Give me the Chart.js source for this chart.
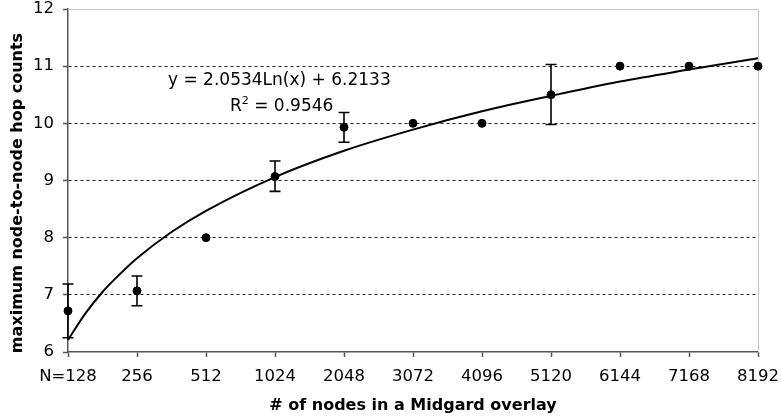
<!DOCTYPE html>
<html lang="en">
<head>
  <meta charset="UTF-8" />
  <title>Max node-to-node hop counts</title>
  <script src="https://cdn.jsdelivr.net/npm/chart.js"></script>
  <style>
    body { margin: 0; padding: 0; background: #fff; }
    #wrap { width: 781px; height: 419px; }
  </style>
</head>
<body>
  <div id="wrap"><canvas id="hopChart" width="781" height="419"></canvas></div>

  <script>
    // categories (x positions 1..11)
    const categories = ['N=128', '256', '512', '1024', '2048', '3072', '4096', '5120', '6144', '7168', '8192'];
    // mean max hop counts
    const hopCounts = [6.72, 7.07, 8.0, 9.07, 9.93, 10.0, 10.0, 10.5, 11.0, 11.0, 11.0];
    const errorLow  = [6.25, 6.81, null, 8.81, 9.67, null, null, 9.98, null, null, null];
    const errorHigh = [7.19, 7.33, null, 9.34, 10.19, null, null, 11.03, null, null, null];
    // log trendline
    const trendX = [1, 1.25, 1.5, 1.75, 2, 2.5, 3, 4, 5, 6, 7, 8, 9, 10, 11];
    const trendY = [6.21, 6.67, 7.05, 7.36, 7.64, 8.10, 8.47, 9.06, 9.52, 9.89, 10.21, 10.48, 10.73, 10.94, 11.14];
    const trendLabel = 'y = 2.0534Ln(x) + 6.2133';
    const r2Label = '0.9546';
    const yTicks = [6, 7, 8, 9, 10, 11, 12];
    const xTitle = '# of nodes in a Midgard overlay';
    const yTitle = 'maximum node-to-node hop counts';

    const pts = hopCounts.map((v, i) => ({ x: i + 1, y: v }));
    const trendPts = trendY.map((v, i) => ({ x: trendX[i], y: v }));

    const FONT = "'DejaVu Sans', Verdana, sans-serif";

    const errorBars = {
      id: 'errorBars',
      afterDatasetsDraw(chart) {
        const ctx = chart.ctx;
        const xs = chart.scales.x, ys = chart.scales.y;
        ctx.save();
        ctx.strokeStyle = '#000';
        ctx.lineWidth = 1.6;
        hopCounts.forEach((v, i) => {
          if (errorLow[i] == null) return;
          const px = xs.getPixelForValue(i + 1);
          const top = ys.getPixelForValue(errorHigh[i]);
          const bot = ys.getPixelForValue(errorLow[i]);
          ctx.beginPath();
          ctx.moveTo(px, top); ctx.lineTo(px, bot);
          ctx.moveTo(px - 5.5, top); ctx.lineTo(px + 5.5, top);
          ctx.moveTo(px - 5.5, bot); ctx.lineTo(px + 5.5, bot);
          ctx.stroke();
        });
        ctx.restore();
      }
    };

    const frameAndText = {
      id: 'frameAndText',
      beforeDatasetsDraw(chart) {
        const { ctx, chartArea: a } = chart;
        ctx.save();
        ctx.strokeStyle = '#c8c8c8';
        ctx.lineWidth = 1;
        ctx.beginPath();
        ctx.moveTo(a.left, a.top + 0.5);
        ctx.lineTo(a.right + 0.5, a.top + 0.5);
        ctx.lineTo(a.right + 0.5, a.bottom);
        ctx.stroke();
        ctx.restore();
      },
      afterDraw(chart) {
        const { ctx, chartArea: a } = chart;
        ctx.save();
        ctx.fillStyle = '#000';
        // trendline equation
        ctx.font = '17px ' + FONT;
        ctx.textBaseline = 'alphabetic';
        ctx.textAlign = 'left';
        ctx.fillText(trendLabel, a.left + 100, a.top + 76);
        const x1 = a.left + 162, yb = a.top + 102;
        ctx.fillText('R', x1, yb);
        let w = ctx.measureText('R').width;
        ctx.font = '11px ' + FONT;
        ctx.fillText('2', x1 + w, yb - 7);
        w += ctx.measureText('2').width;
        ctx.font = '17px ' + FONT;
        ctx.fillText(' = ' + r2Label, x1 + w, yb);
        // y axis title
        ctx.font = 'bold 16px ' + FONT;
        ctx.textAlign = 'center';
        ctx.textBaseline = 'middle';
        ctx.translate(18, 193);
        ctx.rotate(-Math.PI / 2);
        ctx.fillText(yTitle, 0, 0);
        ctx.restore();
      }
    };

    new Chart(document.getElementById('hopChart'), {
      type: 'scatter',
      data: {
        datasets: [
          {
            label: 'hop counts',
            data: pts,
            backgroundColor: '#000',
            borderColor: '#000',
            pointRadius: 4,
            pointHoverRadius: 4,
            clip: false,
            order: 1
          },
          {
            type: 'line',
            label: 'trend',
            data: trendPts,
            borderColor: '#000',
            borderWidth: 2,
            pointRadius: 0,
            fill: false,
            cubicInterpolationMode: 'monotone',
            clip: false,
            order: 2
          }
        ]
      },
      options: {
        responsive: false,
        animation: false,
        events: [],
        layout: { padding: 0 },
        plugins: {
          legend: { display: false },
          tooltip: { enabled: false }
        },
        scales: {
          x: {
            type: 'linear',
            min: 1,
            max: 11,
            afterBuildTicks(scale) {
              scale.ticks = categories.map((c, i) => ({ value: i + 1 }));
            },
            afterFit(scale) {
              scale.height = 67;
              scale.paddingLeft = 0;
              scale.paddingRight = 23;
            },
            ticks: {
              autoSkip: false,
              maxRotation: 0,
              padding: 10,
              color: '#000',
              font: { family: FONT, size: 16.5 },
              callback: (v) => categories[v - 1]
            },
            grid: {
              drawOnChartArea: false,
              tickLength: 5,
              tickColor: '#555',
              tickWidth: 1.5
            },
            border: { color: '#555', width: 1.5 },
            title: {
              display: true,
              text: xTitle,
              color: '#000',
              font: { family: FONT, size: 16, weight: 'bold' },
              padding: { top: 0, bottom: 4 }
            }
          },
          y: {
            min: 6,
            max: 12,
            afterBuildTicks(scale) {
              scale.ticks = yTicks.map(v => ({ value: v }));
            },
            afterFit(scale) {
              scale.width = 68;
              scale.paddingTop = 9;
              scale.paddingBottom = 0;
            },
            ticks: {
              padding: 9,
              color: '#000',
              font: { family: FONT, size: 16.5 }
            },
            grid: {
              color: (c) => (c.tick && (c.tick.value === 12 || c.tick.value === 6)) ? 'rgba(0,0,0,0)' : '#222',
              lineWidth: 1,
              tickLength: 5,
              tickColor: '#555',
              tickWidth: 1.5,
              tickBorderDash: []
            },
            border: { color: '#555', width: 1.5, dash: [3, 3] }
          }
        }
      },
      plugins: [errorBars, frameAndText]
    });
  </script>
</body>
</html>
